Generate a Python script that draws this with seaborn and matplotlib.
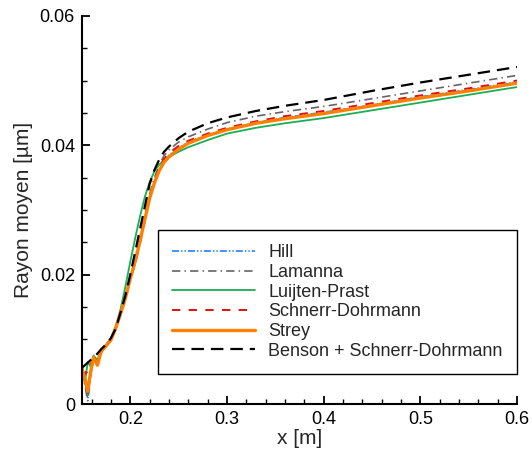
import numpy as np
import pandas as pd
import matplotlib
matplotlib.use('Agg')
import matplotlib.pyplot as plt
from matplotlib.ticker import MultipleLocator
import seaborn as sns

# x positions [m], shared by all series
x = [0.150, 0.153, 0.156, 0.159, 0.162, 0.166, 0.170, 0.175, 0.180, 0.185,
     0.190, 0.195, 0.200, 0.205, 0.210, 0.215, 0.220, 0.225, 0.230, 0.235,
     0.240, 0.250, 0.260, 0.280, 0.300, 0.330, 0.360, 0.400, 0.450, 0.500,
     0.550, 0.600]

hill = [0.0050, 0.0035, 0.0008, 0.0045, 0.0070, 0.0062, 0.0081, 0.0090, 0.0099, 0.0115,
        0.0138, 0.0165, 0.0195, 0.0218, 0.0250, 0.0284, 0.0318, 0.0343, 0.0362, 0.0376,
        0.0385, 0.0396, 0.0405, 0.0416, 0.0425, 0.0435, 0.0443, 0.0451, 0.0462, 0.0475,
        0.0486, 0.0498]
lamanna = [0.0052, 0.0030, 0.0005, 0.0045, 0.0068, 0.0066, 0.0080, 0.0090, 0.0100, 0.0116,
           0.0140, 0.0168, 0.0198, 0.0226, 0.0258, 0.0292, 0.0325, 0.0350, 0.0370, 0.0384,
           0.0393, 0.0405, 0.0413, 0.0425, 0.0435, 0.0445, 0.0452, 0.0460, 0.0472, 0.0484,
           0.0496, 0.0508]
luijten = [0.0060, 0.0032, 0.0065, 0.0058, 0.0075, 0.0068, 0.0085, 0.0092, 0.0102, 0.0120,
           0.0147, 0.0182, 0.0220, 0.0256, 0.0290, 0.0320, 0.0343, 0.0360, 0.0370, 0.0377,
           0.0382, 0.0390, 0.0397, 0.0408, 0.0418, 0.0427, 0.0434, 0.0442, 0.0454, 0.0466,
           0.0478, 0.0490]
schnerr = [0.0050, 0.0045, 0.0055, 0.0062, 0.0070, 0.0072, 0.0080, 0.0090, 0.0100, 0.0116,
           0.0138, 0.0164, 0.0193, 0.0217, 0.0248, 0.0283, 0.0318, 0.0345, 0.0365, 0.0379,
           0.0388, 0.0399, 0.0407, 0.0418, 0.0427, 0.0437, 0.0445, 0.0453, 0.0465, 0.0477,
           0.0488, 0.0500]
strey = [0.0055, 0.0040, 0.0020, 0.0050, 0.0072, 0.0060, 0.0082, 0.0090, 0.0099, 0.0118,
         0.0140, 0.0164, 0.0194, 0.0220, 0.0252, 0.0285, 0.0318, 0.0342, 0.0361, 0.0374,
         0.0382, 0.0394, 0.0403, 0.0415, 0.0424, 0.0434, 0.0441, 0.0449, 0.0461, 0.0473,
         0.0484, 0.0496]
benson = [0.0056, 0.0060, 0.0064, 0.0068, 0.0072, 0.0078, 0.0085, 0.0092, 0.0102, 0.0117,
          0.0142, 0.0168, 0.0200, 0.0235, 0.0270, 0.0305, 0.0340, 0.0362, 0.0378, 0.0390,
          0.0398, 0.0411, 0.0421, 0.0434, 0.0443, 0.0453, 0.0461, 0.0470, 0.0484, 0.0497,
          0.0509, 0.0521]

labels = ['Hill', 'Lamanna', 'Luijten-Prast', 'Schnerr-Dohrmann', 'Strey',
          'Benson + Schnerr-Dohrmann']
series = [hill, lamanna, luijten, schnerr, strey, benson]

styles = {
    'Hill': dict(color='#1E82FF', lw=1.2, ls=(0, (5, 1.5, 1, 1.5, 1, 1.5))),
    'Lamanna': dict(color='#646464', lw=1.2, ls=(0, (6, 3, 1, 3))),
    'Luijten-Prast': dict(color='#1AAE55', lw=1.3, ls='-'),
    'Schnerr-Dohrmann': dict(color='#E01010', lw=1.4, ls=(0, (6, 6))),
    'Strey': dict(color='#FF8000', lw=2.4, ls='-'),
    'Benson + Schnerr-Dohrmann': dict(color='black', lw=1.6, ls=(0, (9, 5))),
}

sns.set_style('white')
plt.rcParams['font.family'] = ['Liberation Sans', 'DejaVu Sans']
plt.rcParams['lines.scale_dashes'] = False

fig = plt.figure(figsize=(5.32, 4.53), dpi=100)
ax = fig.add_axes([0.154, 0.108, 0.818, 0.857])

for name, y in zip(labels, series):
    st = styles[name]
    df = pd.DataFrame({'x': x, 'y': y})
    sns.lineplot(data=df, x='x', y='y', ax=ax, estimator=None, sort=False,
                 color=st['color'], linewidth=st['lw'], linestyle=st['ls'],
                 label=name)

ax.set_xlim(0.15, 0.6)
ax.set_ylim(0, 0.06)
ax.xaxis.set_major_locator(MultipleLocator(0.1))
ax.xaxis.set_minor_locator(MultipleLocator(0.02))
ax.yaxis.set_major_locator(MultipleLocator(0.02))
ax.yaxis.set_minor_locator(MultipleLocator(0.005))
ax.xaxis.set_major_formatter(plt.FuncFormatter(lambda v, p: f'{v:.1f}'))
ax.yaxis.set_major_formatter(plt.FuncFormatter(lambda v, p: '0' if abs(v) < 1e-9 else f'{v:.2f}'))

for s in ['top', 'right']:
    ax.spines[s].set_visible(False)
for s in ['left', 'bottom']:
    ax.spines[s].set_color('black')
    ax.spines[s].set_linewidth(1.5)

ax.tick_params(which='major', direction='in', length=6, width=1.3, colors='black',
               labelsize=13, pad=5)
ax.tick_params(which='minor', direction='in', length=3.5, width=1.0, colors='black')
ax.tick_params(axis='both', which='both', top=False, right=False, bottom=True, left=True)

ax.set_xlabel('x [m]', fontsize=15, labelpad=1)
ax.set_ylabel('Rayon moyen [µm]', fontsize=15, labelpad=5)

leg = ax.legend(loc='lower right', bbox_to_anchor=(1.0, 0.077), fontsize=13,
                handlelength=4.6, handletextpad=0.72, labelspacing=0.15,
                borderpad=0.8, borderaxespad=0, fancybox=False, framealpha=1,
                edgecolor='black')
leg.get_frame().set_linewidth(1.0)

fig.savefig('out.png', dpi=100)
